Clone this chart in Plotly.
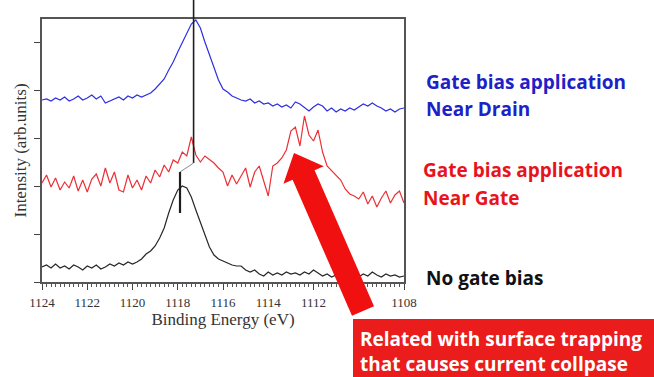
import math
import plotly.graph_objects as go

# Binding-energy grid (eV), 0.2 eV steps from 1124 down to 1108
energy = [round(1124 - 0.2 * i, 1) for i in range(81)]

# Stacked spectra, intensity in arbitrary units (offset baselines included)
near_drain = [
    910, 915, 905, 920, 910, 925, 905, 915, 930, 910,
    920, 935, 915, 930, 895, 905, 915, 925, 910, 930,
    920, 935, 925, 935, 945, 965, 990, 1015, 1060, 1100,
    1150, 1195, 1240, 1290, 1310, 1270, 1200, 1135, 1065, 1010,
    965, 950, 930, 920, 910, 905, 915, 895, 905, 890,
    895, 880, 890, 875, 885, 870, 900, 890, 870, 855,
    875, 890, 880, 855, 870, 850, 865, 855, 870, 860,
    875, 890, 880, 895, 880, 870, 855, 865, 850, 865,
    870,
]
near_gate = [
    495, 535, 475, 520, 460, 500, 470, 530, 455, 510,
    450, 515, 540, 480, 570, 495, 550, 460, 450, 535,
    470, 510, 460, 530, 495, 560, 525, 585, 550, 610,
    595, 650, 630, 725, 635, 600, 630, 610, 595, 570,
    550, 480, 535, 490, 530, 570, 475, 550, 580, 500,
    430, 580, 595, 620, 660, 755, 775, 680, 830, 735,
    705, 760, 650, 580, 555, 530, 510, 465, 440, 430,
    415, 450, 390, 430, 375, 420, 455, 395, 435, 455,
    395,
]
no_bias = [
    75, 85, 70, 90, 70, 80, 65, 85, 75, 60,
    80, 70, 85, 65, 75, 90, 80, 95, 85, 100,
    90, 100, 115, 140, 155, 180, 220, 270, 345, 410,
    460, 480, 470, 425, 360, 300, 230, 175, 135, 115,
    105, 95, 85, 80, 80, 60, 50, 60, 40, 30,
    50, 35, 45, 35, 50, 40, 45, 35, 50, 40,
    60, 45, 30, 40, 25, 35, 20, 40, 30, 45,
    25, 40, 30, 50, 35, 25, 40, 30, 35, 25,
    30,
]

x_tick_vals = [1124, 1122, 1120, 1118, 1116, 1114, 1112, 1110, 1108]
y_tick_vals = [0, 240, 480, 720, 960, 1200]
Y_MAX = 1315

# Peak-position markers (eV) and their vertical extents (intensity units)
peak_drain = 1117.3
peak_nobias = 1117.9
marker_upper_bottom = 595
marker_join = 550
marker_lower_bottom = 345

# Page geometry
FIG_W, FIG_H = 654, 377
PLOT_L, PLOT_T, PLOT_W, PLOT_H = 42, 19, 362, 263


def paper(px, py):
    return (px - PLOT_L) / PLOT_W, (PLOT_T + PLOT_H - py) / PLOT_H


fig = go.Figure()
for vals, col in [(near_drain, "#2f2fe0"), (near_gate, "#ec3036"), (no_bias, "#262626")]:
    fig.add_trace(go.Scatter(x=energy, y=vals, mode="lines",
                             line=dict(color=col, width=1.2), showlegend=False,
                             hoverinfo="skip"))

serif = "Liberation Serif"
sans = "Open Sans"

shapes = [
    # peak markers
    dict(type="line", xref="x", yref="paper", x0=peak_drain, x1=peak_drain,
         y0=marker_upper_bottom / Y_MAX, y1=paper(0, 0)[1],
         line=dict(color="#1e1e1e", width=1.6)),
    dict(type="line", xref="x", yref="y", x0=peak_drain, x1=peak_nobias,
         y0=marker_upper_bottom, y1=marker_join,
         line=dict(color="#8a8a8a", width=1)),
    dict(type="line", xref="x", yref="y", x0=peak_nobias, x1=peak_nobias,
         y0=marker_join, y1=marker_lower_bottom,
         line=dict(color="#1e1e1e", width=2.2)),
]

# Callout arrow pointing at the extra feature
tail = (363, 311)
tip = (294, 153)
head_len, head_half, shaft_half = 24, 22, 12
dx, dy = tip[0] - tail[0], tip[1] - tail[1]
ln = math.hypot(dx, dy)
ux, uy = dx / ln, dy / ln
nx, ny = -uy, ux
bx, by = tip[0] - head_len * ux, tip[1] - head_len * uy
pts = [
    (tail[0] + shaft_half * nx, tail[1] + shaft_half * ny),
    (bx + shaft_half * nx, by + shaft_half * ny),
    (bx + head_half * nx, by + head_half * ny),
    tip,
    (bx - head_half * nx, by - head_half * ny),
    (bx - shaft_half * nx, by - shaft_half * ny),
    (tail[0] - shaft_half * nx, tail[1] - shaft_half * ny),
]
pp = [paper(*p) for p in pts]
path = "M " + " L ".join(f"{a:.4f},{b:.4f}" for a, b in pp) + " Z"
shapes.append(dict(type="path", xref="paper", yref="paper", path=path,
                   fillcolor="#f01010", line=dict(width=0), layer="above"))

# Red caption box
bx0, by0 = paper(353, 377)
bx1, by1 = paper(654, 319)
shapes.append(dict(type="rect", xref="paper", yref="paper", x0=bx0, x1=bx1,
                   y0=by0, y1=by1, fillcolor="#ea1c1c", line=dict(width=0),
                   layer="above"))

labels = [
    ("Gate bias application", 424, 82, "#1c22c8"),
    ("Near Drain", 424, 109, "#1c22c8"),
    ("Gate bias application", 421, 170, "#e8141c"),
    ("Near Gate", 421, 198, "#e8141c"),
    ("No gate bias", 424, 278, "#111111"),
    ("Related with surface trapping<br>that causes current collpase", 358, 351, "#ffffff"),
]
annotations = []
for txt, px_, py_, col in labels:
    ax_, ay_ = paper(px_, py_)
    annotations.append(dict(text=f"<b>{txt}</b>", x=ax_, y=ay_, xref="paper",
                            yref="paper", xanchor="left", yanchor="middle",
                            align="left", showarrow=False,
                            font=dict(family=sans, size=19, color=col)))

fig.update_layout(
    width=FIG_W, height=FIG_H,
    margin=dict(l=PLOT_L, r=FIG_W - PLOT_L - PLOT_W, t=PLOT_T,
                b=FIG_H - PLOT_T - PLOT_H, pad=0),
    paper_bgcolor="white", plot_bgcolor="white",
    shapes=shapes, annotations=annotations,
    xaxis=dict(
        range=[1124, 1108], tickvals=x_tick_vals,
        ticks="outside", ticklen=6, tickwidth=1, tickcolor="#444",
        minor=dict(dtick=0.2, ticks="outside", ticklen=3, tickwidth=1,
                   tickcolor="#555"),
        showline=True, linecolor="#555", linewidth=1.5, mirror=True,
        showgrid=False, zeroline=False,
        tickfont=dict(family=serif, size=13, color="#333"),
        ticklabelstandoff=2,
        title=dict(text="Binding Energy (eV)", standoff=4,
                   font=dict(family=serif, size=17, color="#333")),
        automargin=False,
    ),
    yaxis=dict(
        range=[0, Y_MAX], tickvals=y_tick_vals, showticklabels=False,
        ticks="outside", ticklen=6, tickwidth=1, tickcolor="#444",
        showline=True, linecolor="#555", linewidth=1.5, mirror=True,
        showgrid=False, zeroline=False,
        title=dict(text="Intensity (arb.units)", standoff=3,
                   font=dict(family=serif, size=17, color="#333")),
        automargin=False,
    ),
)

fig.write_html("out.html")
